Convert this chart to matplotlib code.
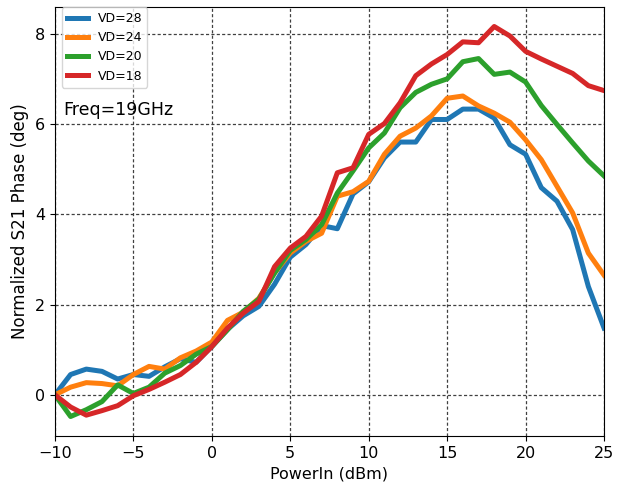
import matplotlib
matplotlib.use("Agg")
import matplotlib.pyplot as plt

power_in = list(range(-10, 26))

vd28 = [0, 0.45, 0.57, 0.52, 0.35, 0.45, 0.41, 0.62, 0.8, 0.72,
        1.07, 1.45, 1.75, 1.96, 2.45, 3.05, 3.33, 3.75, 3.68, 4.45,
        4.72, 5.25, 5.6, 5.6, 6.1, 6.1, 6.33, 6.33, 6.13, 5.54,
        5.33, 4.59, 4.29, 3.66, 2.4, 1.48]
vd24 = [0, 0.17, 0.27, 0.25, 0.2, 0.45, 0.63, 0.57, 0.82, 0.97,
        1.17, 1.65, 1.83, 2.14, 2.7, 3.14, 3.4, 3.58, 4.4, 4.5,
        4.73, 5.33, 5.73, 5.91, 6.18, 6.57, 6.62, 6.4, 6.24, 6.04,
        5.65, 5.21, 4.62, 4.03, 3.14, 2.65]
vd20 = [0, -0.48, -0.33, -0.15, 0.22, 0.03, 0.17, 0.48, 0.65, 0.9,
        1.07, 1.44, 1.85, 2.12, 2.7, 3.2, 3.44, 3.77, 4.47, 4.96,
        5.47, 5.8, 6.36, 6.7, 6.88, 7.0, 7.38, 7.45, 7.1, 7.15,
        6.93, 6.41, 5.99, 5.58, 5.18, 4.85]
vd18 = [0, -0.27, -0.45, -0.35, -0.24, -0.02, 0.12, 0.28, 0.45, 0.72,
        1.07, 1.48, 1.81, 2.07, 2.84, 3.25, 3.51, 3.96, 4.92, 5.03,
        5.77, 6.01, 6.47, 7.07, 7.33, 7.54, 7.82, 7.8, 8.16, 7.95,
        7.61, 7.44, 7.28, 7.12, 6.85, 6.74]

series = {"VD=28": vd28, "VD=24": vd24, "VD=20": vd20, "VD=18": vd18}

fig = plt.figure(figsize=(6.17, 5.0), dpi=100)
ax = fig.add_axes([0.089, 0.128, 0.89, 0.858])

for name, vals in series.items():
    ax.plot(power_in, vals, lw=3.6, label=name)

ax.set_xlim(-10, 25)
ax.grid(True, color="0.25", linestyle=(0, (2.5, 1.8)), linewidth=0.9)
ax.set_xlabel("PowerIn (dBm)", fontsize=11.5)
ax.set_ylabel("Normalized S21 Phase (deg)", fontsize=12)
ax.tick_params(labelsize=11.5)
ax.text(-9.45, 6.32, "Freq=19GHz", fontsize=12.5, va="center", ha="left")
ax.legend(loc="upper left", bbox_to_anchor=(0.012, 1.0), borderaxespad=0,
          fontsize=9, handlelength=1.7)

fig.savefig("out.png", dpi=100)
